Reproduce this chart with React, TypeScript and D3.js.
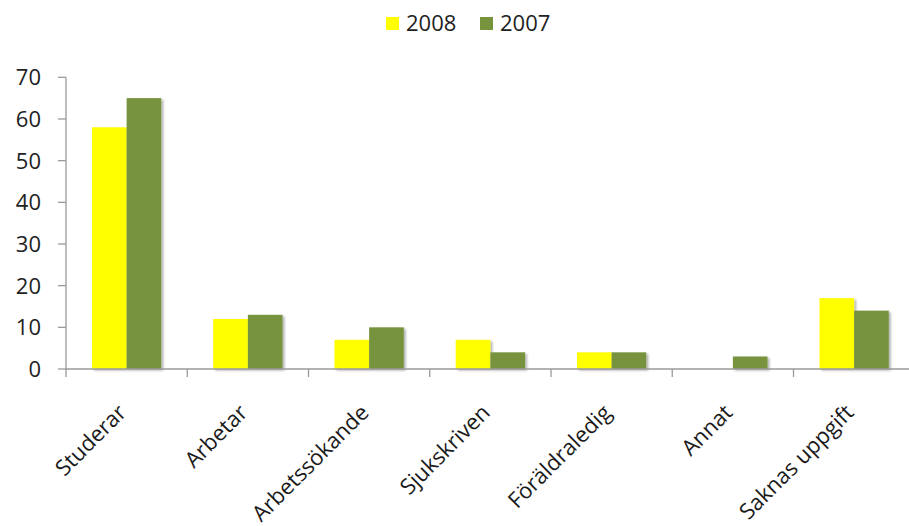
import React from "react";
import * as d3 from "d3";

const categories = ["Studerar", "Arbetar", "Arbetssökande", "Sjukskriven", "Föräldraledig", "Annat", "Saknas uppgift"];
const series2008 = [58, 12, 7, 7, 4, 0, 17];
const series2007 = [65, 13, 10, 4, 4, 3, 14];
const seriesNames = ["2008", "2007"];
const seriesColors = ["#FFFF00", "#77933C"];
const yTicks = [0, 10, 20, 30, 40, 50, 60, 70];

const W = 909;
const H = 526;
const FONT = "'Open Sans', 'Liberation Sans', sans-serif";

export default function App() {
  const x0 = 66;
  const bandW = 121.25;
  const x = d3.scaleBand<string>().domain(categories).range([x0, x0 + bandW * categories.length]).paddingInner(0).paddingOuter(0);
  const groupW = x.bandwidth() / 1.75;
  const xs = d3.scaleBand<string>().domain(seriesNames).range([0, groupW]);
  const y = d3.scaleLinear().domain([0, 70]).range([369, 77.3]);
  const data = [series2008, series2007];

  return (
    <svg width={W} height={H} style={{ position: "absolute", left: 0, top: 0, background: "#fff" }} fontFamily={FONT}>
      <defs>
        <filter id="shadow" x="-20%" y="-20%" width="150%" height="150%">
          <feDropShadow dx="2" dy="1.5" stdDeviation="1.3" floodColor="#000" floodOpacity="0.3" />
        </filter>
      </defs>
      {/* legend */}
      <g>
        {seriesNames.map((s, i) => {
          const lx = i === 0 ? 386 : 480;
          return (
            <g key={s}>
              <rect x={lx} y={17} width={13} height={13} fill={seriesColors[i]} />
              <text x={lx + 20} y={31} fontSize={22} fill="#222">{s}</text>
            </g>
          );
        })}
      </g>
      {/* bars */}
      {categories.map((c, ci) => {
        const gx = (x(c) as number) + (x.bandwidth() - groupW) / 2;
        return (
          <g key={c} filter="url(#shadow)">
            {seriesNames.map((s, si) => {
              const v = data[si][ci];
              if (v <= 0) return null;
              return (
                <rect key={s} x={gx + (xs(s) as number)} y={y(v)} width={xs.bandwidth()} height={y(0) - y(v)} fill={seriesColors[si]} />
              );
            })}
          </g>
        );
      })}
      {/* y axis */}
      <line x1={x0} x2={x0} y1={y(70)} y2={y(0)} stroke="#9a9a9a" strokeWidth={1.3} />
      {yTicks.map((t) => (
        <g key={t}>
          <line x1={x0 - 8} x2={x0} y1={y(t)} y2={y(t)} stroke="#9a9a9a" strokeWidth={1.3} />
          <text x={41} y={y(t)} dy="0.36em" textAnchor="end" fontSize={22} fill="#222">{t}</text>
        </g>
      ))}
      {/* x axis */}
      <line x1={x0} x2={x0 + bandW * categories.length} y1={y(0)} y2={y(0)} stroke="#9a9a9a" strokeWidth={1.3} />
      {categories.map((c) => (
        <line key={c} x1={x(c) as number} x2={x(c) as number} y1={y(0)} y2={y(0) + 8} stroke="#9a9a9a" strokeWidth={1.3} />
      ))}
      <line x1={x0 + bandW * categories.length} x2={x0 + bandW * categories.length} y1={y(0)} y2={y(0) + 8} stroke="#9a9a9a" strokeWidth={1.3} />
      {categories.map((c) => {
        const cx = (x(c) as number) + x.bandwidth() / 2;
        return (
          <text key={c} transform={`translate(${cx + 1},${414}) rotate(-45)`} textAnchor="end" fontSize={22} fill="#1a1a1a">{c}</text>
        );
      })}
    </svg>
  );
}
